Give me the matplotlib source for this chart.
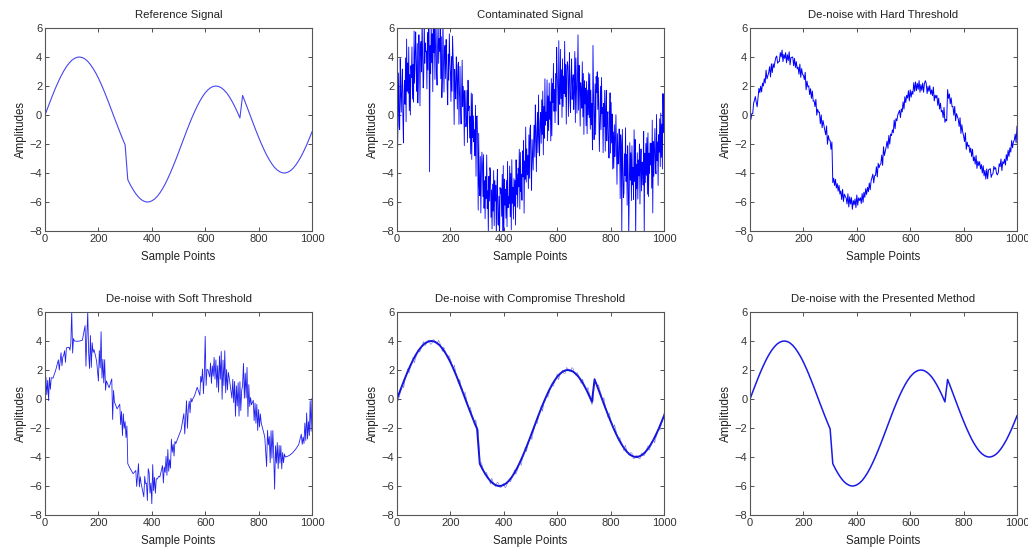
import numpy as np
import matplotlib
matplotlib.use('Agg')
import matplotlib.pyplot as plt

plt.rcParams['font.family'] = ['Liberation Sans', 'DejaVu Sans']

# sample axis, one reading every 10 samples
sample_points = list(range(0, 1001, 10))

# reference signal
reference = [
    0.00, 0.49, 0.97, 1.44, 1.89, 2.30, 2.69, 3.03, 3.33, 3.57,
    3.77, 3.90, 3.98, 4.00, 3.96, 3.86, 3.70, 3.48, 3.21, 2.90,
    2.54, 2.14, 1.71, 1.25, 0.78, 0.29, -0.20, -0.68, -1.16, -1.62,
    -2.06, -4.46, -4.83, -5.15, -5.43, -5.66, -5.83, -5.94, -6.00, -5.99,
    -5.92, -5.80, -5.62, -5.38, -5.09, -4.76, -4.38, -3.97, -3.53, -3.07,
    -2.59, -2.10, -1.61, -1.12, -0.65, -0.20, 0.22, 0.61, 0.96, 1.27,
    1.53, 1.73, 1.88, 1.97, 2.00, 1.97, 1.88, 1.73, 1.53, 1.27,
    0.96, 0.61, 0.22, -0.20, 1.35, 0.88, 0.39, -0.10, -0.59, -1.07,
    -1.53, -1.97, -2.38, -2.76, -3.09, -3.38, -3.62, -3.80, -3.92, -3.99,
    -4.00, -3.94, -3.83, -3.66, -3.43, -3.15, -2.83, -2.46, -2.06, -1.62,
    -1.16,
]

# deviation from the reference inside each 10-sample bin (contaminated signal)
contaminated_noise = [
    [1.2, -2.6, 0.4, 2.9, -0.8], [-1.5, 3.4, 0.9, -0.3, 1.8], [2.2, -1.1, -2.9, 0.6, 1.4],
    [-0.7, 2.5, -1.9, 3.8, 0.2], [1.7, -0.4, 2.8, -1.6, 0.9], [-2.3, 1.1, 0.3, 2.4, -1.2],
    [0.8, -1.8, 3.1, -0.5, 1.6], [2.7, 0.1, -1.4, 1.9, -2.2], [-0.9, 2.2, 0.7, -2.7, 1.3],
    [1.5, -0.6, 3.3, 0.4, -1.7], [-1.3, 2.9, -0.2, 1.2, 0.6], [0.5, -2.1, 1.8, -0.8, 2.6],
    [1.9, -7.9, 0.8, -1.1, 2.3], [-0.4, 1.6, -2.4, 2.8, 0.3], [2.1, -1.5, 0.6, 3.0, -0.9],
    [-1.8, 0.9, 2.5, -0.3, 1.4], [0.7, 2.4, -1.2, 1.7, -2.5], [-1.0, 3.2, 0.2, -1.9, 1.1],
    [1.6, -0.7, 2.0, 0.5, -1.4], [-2.2, 1.3, -0.5, 2.7, 0.8], [0.4, -1.6, 1.5, -0.9, 2.9],
    [1.8, 0.6, -2.8, 1.0, -0.3], [-0.6, 2.3, 0.9, -1.3, 1.7], [2.4, -1.9, 0.1, 2.1, -0.8],
    [-1.4, 0.7, 3.0, -0.2, 1.2], [0.9, -2.4, 1.4, 0.3, -1.1], [-0.3, 1.9, -1.7, 2.6, 0.5],
    [1.3, -0.9, 0.6, -2.0, 2.2], [-1.9, 2.6, -0.4, 1.1, -0.7], [0.6, -1.2, 2.3, -2.6, 1.5],
    [2.0, 0.2, -4.5, 0.8, -2.9], [-1.1, 1.6, -2.3, 0.4, 1.9], [1.4, -0.8, 2.1, -1.6, 0.3],
    [-2.0, 0.9, -0.6, 2.4, -1.3], [0.2, -2.7, 1.2, -0.5, 1.8], [1.7, -1.4, 0.5, -2.2, 0.9],
    [-0.8, 2.0, -1.8, 1.3, -0.1], [1.1, -2.5, 0.7, 2.2, -1.6], [-1.6, 0.4, -3.1, 1.0, 0.6],
    [0.9, -1.0, 1.9, -2.4, 2.5], [-2.6, 1.5, -0.3, 0.8, -1.2], [1.3, -1.9, 2.6, -0.6, 0.2],
    [-0.5, 2.1, -1.4, 1.6, -2.3], [2.3, -0.7, 0.4, -1.8, 1.0], [-1.2, 0.6, -2.5, 2.0, -0.4],
    [0.7, -1.6, 1.1, -0.2, 2.4], [-2.1, 1.8, -0.9, 0.3, -1.5], [1.5, -0.3, 2.2, -2.8, 0.8],
    [-0.9, 2.7, -1.1, 1.2, -0.6], [0.3, -2.0, 1.7, -1.3, 2.1], [1.9, -1.1, -2.6, 0.9, -0.2],
    [-1.7, 0.5, 1.4, -0.8, 2.8], [0.6, -2.3, 0.2, 1.8, -1.0], [2.5, -0.4, -1.7, 0.7, 1.3],
    [-1.3, 1.7, -0.7, 2.3, -2.1], [0.8, -1.4, 2.7, -0.5, 0.4], [-0.6, 2.2, -2.0, 1.1, -1.3],
    [1.6, -0.9, 0.3, -2.4, 1.9], [-2.4, 1.2, -0.1, 2.6, -0.7], [0.5, -1.8, 1.6, -1.0, 3.4],
    [1.2, 0.3, -2.2, 3.6, -0.5], [-1.0, 2.8, -0.6, 1.4, -1.9], [2.0, -1.3, 0.8, -0.4, 3.2],
    [-0.7, 1.5, -2.6, 0.9, 1.7], [1.4, -2.1, 0.5, 2.3, -1.1], [-1.8, 0.8, 1.9, -0.9, 0.3],
    [0.9, -1.5, -0.3, 2.5, -2.4], [2.2, 0.1, -1.6, 1.0, 3.8], [-1.2, 1.9, 0.4, -2.3, 0.7],
    [0.4, -0.8, 2.4, -1.4, 1.6], [-2.3, 1.4, -0.2, 0.9, -1.7], [1.7, -1.9, 1.1, -0.6, 2.3],
    [-0.4, 2.6, -1.2, 1.5, -0.9], [1.0, -2.2, 5.0, 2.0, -1.5], [-1.5, 0.8, -2.7, 1.3, 0.2],
    [2.1, -0.5, 1.7, -1.1, -3.4], [-0.8, 1.6, -1.4, 2.2, -0.3], [0.6, -2.5, 0.9, -0.7, 1.8],
    [-1.9, 1.1, 2.3, -1.2, 0.5], [1.3, -0.6, -1.9, 0.8, 2.6], [-1.1, 2.4, -0.4, 1.6, -2.2],
    [0.8, -1.7, 1.3, -0.9, 0.2], [2.4, -0.2, -2.4, 1.1, -1.0], [-0.5, 1.8, 0.6, -3.0, 1.4],
    [1.1, -5.2, 2.1, -0.3, -2.6], [-2.0, 0.7, -0.8, 2.5, -1.2], [0.9, -2.6, 1.5, -0.4, -4.8],
    [-1.4, 1.9, -0.7, 1.2, -2.1], [1.8, -0.9, 0.3, -1.9, 2.9], [-0.6, 2.3, -4.6, 0.6, -1.1],
    [1.4, -1.8, 0.9, -0.2, 2.0], [-2.2, 0.4, 1.6, -1.3, 0.7], [0.5, -1.0, 2.7, -4.4, 1.2],
    [-1.0, 1.7, -0.5, 2.1, -1.8], [2.2, -2.2, 0.8, -0.6, 1.5], [-0.3, 1.2, -1.9, 2.8, -3.6],
    [1.0, -1.4, 0.4, 1.9, -0.8], [-1.6, 2.5, -0.7, 0.6, -2.4], [0.7, -0.5, 1.8, -1.5, 2.2],
    [-1.3, 1.0, -2.1, 3.1, 0.4], [2.6, -0.8, 1.3, -1.9, 4.5],
]

# residual left by the hard threshold
hard_noise = [
    [0.2, -0.3, 0.1], [-0.4, 0.3, 0.0], [0.3, -0.1, -0.4], [-0.2, 0.4, 0.1], [0.1, -0.3, 0.3],
    [-0.3, 0.2, -0.1], [0.4, -0.2, 0.0], [-0.1, 0.3, -0.4], [0.2, -0.4, 0.2], [-0.3, 0.1, 0.4],
    [0.3, -0.2, -0.1], [-0.2, 0.4, 0.1], [0.5, -0.3, 0.2], [-0.1, 0.3, -0.4], [0.2, -0.2, 0.4],
    [-0.4, 0.1, 0.0], [0.3, -0.3, 0.2], [-0.2, 0.2, -0.3], [0.1, -0.4, 0.3], [-0.3, 0.3, -0.1],
    [0.2, -0.1, 0.4], [-0.4, 0.2, -0.2], [0.3, -0.3, 0.1], [-0.1, 0.4, -0.3], [0.2, -0.2, 0.3],
    [-0.3, 0.1, -0.1], [0.4, -0.4, 0.2], [-0.2, 0.3, 0.0], [0.1, -0.2, 0.4], [-0.4, 0.2, -0.1],
    [0.3, -0.3, 0.2], [-0.2, 0.1, -0.4], [0.4, -0.2, 0.1], [-0.1, 0.3, -0.3], [0.2, -0.4, 0.3],
    [-0.3, 0.2, 0.0], [0.1, -0.3, 0.4], [-0.4, 0.3, -0.2], [0.3, -0.5, 0.1], [-0.2, 0.2, -0.4],
    [0.4, -0.3, 0.2], [-0.1, 0.1, -0.3], [0.2, -0.4, 0.3], [-0.3, 0.3, -0.1], [0.1, -0.2, 0.4],
    [-0.4, 0.2, 0.0], [0.3, -0.3, 0.2], [-0.2, 0.4, -0.3], [0.2, -0.1, 0.1], [-0.3, 0.3, -0.4],
    [0.4, -0.2, 0.1], [-0.1, 0.3, -0.2], [0.2, -0.4, 0.3], [-0.3, 0.1, -0.1], [0.3, -0.3, 0.4],
    [-0.2, 0.2, 0.0], [0.1, -0.4, 0.2], [-0.4, 0.3, -0.2], [0.3, -0.1, 0.4], [-0.1, 0.4, -0.3],
    [0.2, -0.3, 0.1], [-0.3, 0.5, -0.1], [0.4, -0.2, 0.3], [-0.2, 0.4, -0.4], [0.1, -0.3, 0.2],
    [-0.4, 0.2, 0.4], [0.3, -0.4, 0.1], [-0.1, 0.3, -0.3], [0.2, -0.2, 0.4], [-0.3, 0.1, -0.1],
    [0.4, -0.3, 0.2], [-0.2, 0.2, -0.4], [0.1, -0.4, 0.3], [-0.3, -0.1, -0.2], [0.4, -0.2, 0.1],
    [-0.1, 0.3, -0.3], [0.2, -0.4, 0.2], [-0.3, 0.2, 0.0], [0.3, -0.2, 0.4], [-0.2, 0.4, -0.1],
    [0.1, -0.3, 0.3], [-0.4, 0.1, -0.2], [0.3, -0.2, 0.1], [-0.1, 0.4, -0.4], [0.2, -0.3, 0.3],
    [-0.3, 0.2, -0.1], [0.4, -0.1, 0.2], [-0.2, 0.3, -0.4], [0.1, -0.5, 0.2], [-0.4, 0.2, 0.0],
    [0.3, -0.3, -0.1], [-0.1, 0.4, 0.2], [0.2, -0.2, -0.3], [-0.3, 0.3, 0.1], [0.4, -0.4, 0.2],
    [-0.2, 0.1, -0.3], [0.1, -0.3, 0.4], [-0.4, 0.2, -0.1], [0.3, -0.2, 0.2], [-0.1, 0.3, -0.3],
    [0.4, -0.2, 0.1],
]

# residual left by the soft threshold (mostly clean with bursts)
soft_noise = [
    [-1.2, 1.5, 0.3], [0.8, -0.6, 1.0], [-0.3, 0.5, 0.0], [0.0, 0.0, 0.0], [0.1, 0.0, 0.0],
    [0.4, -0.3, 0.0], [0.5, -0.4, 0.2], [0.0, 0.3, -0.5], [0.2, 0.0, 0.0], [0.0, -0.2, 0.3],
    [2.3, -0.6, 0.4], [0.1, 0.0, 0.0], [0.0, 0.0, 0.0], [0.0, 0.0, 0.0], [0.1, 0.0, 0.0],
    [1.2, -1.6, 0.5], [2.3, -0.5, -1.6], [0.9, -1.3, 0.4], [0.0, 0.2, 0.0], [0.0, -0.3, 0.0],
    [-1.3, 0.8, -0.4], [2.5, -0.7, 0.6], [-0.6, 1.0, -1.1], [0.0, 0.0, 0.0], [0.0, 0.0, 0.0],
    [1.1, -1.7, 0.3], [0.0, 0.0, 0.0], [0.0, 0.0, 0.0], [0.8, -0.6, 0.3], [-0.9, 0.6, -0.4],
    [0.5, -0.6, 0.2], [0.0, 0.0, 0.0], [0.0, 0.0, 0.0], [0.0, 0.0, 0.0], [0.5, -0.6, 0.2],
    [1.2, -0.4, 0.3], [0.0, 0.0, 0.0], [-0.8, 0.6, 0.1], [0.2, -1.0, 1.2], [0.9, -0.5, 0.2],
    [-1.3, 1.4, -0.4], [0.4, -0.7, 0.3], [0.1, 0.0, 0.3], [0.0, 0.0, 0.0], [0.5, -0.7, 0.4],
    [-0.3, 0.8, -0.5], [0.9, -0.6, 0.2], [-0.8, 1.2, 0.3], [0.4, -0.4, 0.6], [0.0, 0.0, 0.0],
    [0.0, 0.0, 0.0], [0.0, 0.0, 0.0], [0.6, -0.8, 0.3], [1.0, -0.9, 0.4], [0.5, -0.3, 0.7],
    [0.0, 0.2, 0.0], [0.0, 0.0, 0.0], [0.2, 0.0, 0.0], [-0.7, 0.6, 0.2], [0.8, -0.9, 0.4],
    [2.8, -0.6, 0.5], [0.3, 0.0, -0.2], [0.6, -0.8, 0.4], [-0.4, 0.9, -0.6], [0.7, -1.2, 0.3],
    [-1.5, 1.0, -0.6], [1.4, -1.9, 0.8], [-0.8, 1.6, -1.3], [0.5, -0.9, 0.3], [0.2, 0.0, 0.0],
    [-0.9, 0.4, -1.2], [0.6, -1.8, 0.3], [-0.7, 0.9, -1.4], [1.4, -0.6, 0.8], [-0.4, 1.1, -1.3],
    [0.9, -0.8, 1.3], [-1.6, 0.6, -0.9], [0.2, -0.3, 0.0], [0.5, -0.9, 0.3], [-0.6, 0.7, -1.1],
    [0.8, -0.4, 0.5], [0.3, 0.0, 0.0], [0.0, -0.3, 0.0], [-1.9, 0.6, -0.4], [0.5, -1.3, 0.9],
    [-0.7, 1.2, -0.5], [-2.6, 0.4, -0.8], [0.8, -1.0, 0.6], [-0.5, 0.7, -0.9], [0.3, -0.4, 0.2],
    [0.0, 0.0, 0.0], [0.0, 0.0, 0.0], [0.0, 0.0, 0.0], [0.0, 0.0, 0.0], [0.0, 0.0, 0.0],
    [0.0, 0.0, 0.0], [0.4, -0.3, 0.2], [-0.6, 0.8, -0.4], [1.1, -0.7, 0.5], [-0.9, 1.5, -0.6],
    [1.2, -0.4, 0.7],
]

# residual left by the compromise threshold (thin fuzz around the curve)
compromise_noise = [
    [0.1, -0.1], [-0.2, 0.1], [0.1, -0.2], [-0.1, 0.2], [0.2, -0.1], [-0.1, 0.1], [0.2, -0.2],
    [-0.2, 0.1], [0.1, -0.1], [-0.1, 0.2], [0.2, -0.1], [-0.1, 0.1], [0.1, -0.2], [-0.2, 0.1],
    [0.1, -0.1], [-0.1, 0.2], [0.2, -0.1], [-0.2, 0.1], [0.1, -0.2], [-0.1, 0.1], [0.2, -0.1],
    [-0.1, 0.2], [0.1, -0.2], [-0.2, 0.1], [0.1, -0.1], [-0.1, 0.2], [0.2, -0.2], [-0.1, 0.1],
    [0.1, -0.1], [-0.2, 0.2], [0.1, -0.1], [-0.1, 0.1], [0.2, -0.2], [-0.1, 0.1], [0.1, -0.1],
    [-0.2, 0.2], [0.1, -0.1], [-0.1, 0.2], [0.2, -0.1], [-0.1, 0.1], [0.1, -0.2], [-0.2, 0.1],
    [0.1, -0.1], [-0.1, 0.2], [0.2, -0.1], [-0.2, 0.1], [0.1, -0.2], [-0.1, 0.1], [0.2, -0.1],
    [-0.1, 0.2], [0.1, -0.2], [-0.2, 0.1], [0.1, -0.1], [-0.1, 0.2], [0.2, -0.2], [-0.1, 0.1],
    [0.1, -0.1], [-0.2, 0.2], [0.1, -0.1], [-0.1, 0.1], [0.2, -0.2], [-0.1, 0.1], [0.1, -0.1],
    [-0.2, 0.2], [0.1, -0.1], [-0.1, 0.2], [0.2, -0.1], [-0.1, 0.1], [0.1, -0.2], [-0.2, 0.1],
    [0.1, -0.1], [-0.1, 0.2], [0.2, -0.1], [-0.2, 0.1], [0.1, -0.2], [-0.1, 0.1], [0.2, -0.1],
    [-0.1, 0.2], [0.1, -0.2], [-0.2, 0.1], [0.1, -0.1], [-0.1, 0.2], [0.2, -0.2], [-0.1, 0.1],
    [0.1, -0.1], [-0.2, 0.2], [0.1, -0.1], [-0.1, 0.1], [0.2, -0.2], [-0.1, 0.1], [0.1, -0.1],
    [-0.2, 0.2], [0.1, -0.1], [-0.1, 0.2], [0.2, -0.1], [-0.1, 0.1], [0.1, -0.2], [-0.2, 0.1],
    [0.1, -0.1], [-0.1, 0.2], [0.2, -0.1],
]

titles = ['Reference Signal', 'Contaminated Signal', 'De-noise with Hard Threshold',
          'De-noise with Soft Threshold', 'De-noise with Compromise Threshold',
          'De-noise with the Presented Method']


def spread(noise):
    # put the readings of each bin side by side inside that bin;
    # zero readings after the first are dropped so clean stretches stay straight
    xs, ys = [], []
    for x0, base, row in zip(sample_points, reference, noise):
        n = len(row)
        for k, dv in enumerate(row):
            if k > 0 and dv == 0:
                continue
            xs.append(x0 + k * 10.0 / n)
            ys.append(base + dv)
    return xs, ys


fig = plt.figure(figsize=(10.28, 5.49), dpi=100)

lefts = [0.0438, 0.3862, 0.7296]
bottoms = [0.5792, 0.0619]
w, h = 0.2597, 0.3698

axes = []
for r in range(2):
    for c in range(3):
        axes.append(fig.add_axes([lefts[c], bottoms[r], w, h]))

blue = '#0000ff'
axes[0].plot(sample_points, reference, color='#4646ee', lw=0.8)

x, y = spread(contaminated_noise)
axes[1].plot(x, y, color=blue, lw=0.6)

x, y = spread(hard_noise)
axes[2].plot(x, y, color=blue, lw=0.7)

x, y = spread(soft_noise)
axes[3].plot(x, y, color='#2020f0', lw=0.6)

axes[4].plot(sample_points, reference, color='#1010e0', lw=1.4)
x, y = spread(compromise_noise)
axes[4].plot(x, y, color='#3030d0', lw=0.4, alpha=0.7)

axes[5].plot(sample_points, reference, color='#1a1ae8', lw=1.1)

for ax, t in zip(axes, titles):
    ax.set_xlim(0, 1000)
    ax.set_ylim(-8, 6)
    ax.set_xticks(range(0, 1001, 200))
    ax.set_yticks(range(-8, 7, 2))
    ax.tick_params(direction='in', length=3, width=0.6, top=True, right=True,
                   labelsize=8, colors='#333333', pad=2)
    for s in ax.spines.values():
        s.set_color('#555555')
        s.set_linewidth(0.8)
    ax.set_title(t, fontsize=8.2, color='#222222', pad=7)
    ax.set_xlabel('Sample Points', fontsize=8.3, color='#222222', labelpad=5.5)
    ax.set_ylabel('Amplitudes', fontsize=8.3, color='#222222', labelpad=2)

fig.savefig('out.png', dpi=100)
